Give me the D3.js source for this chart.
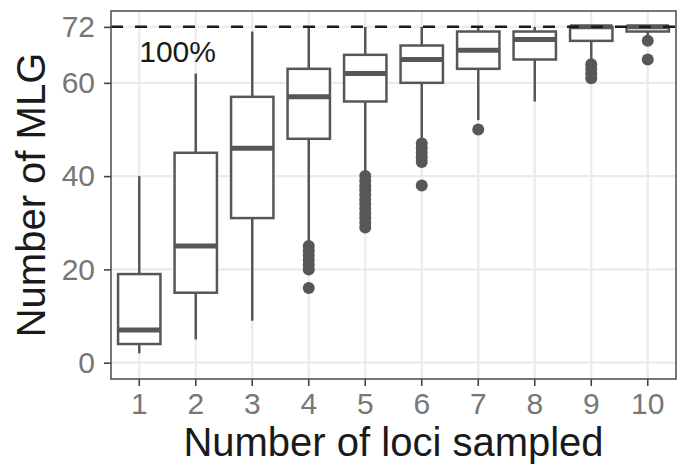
<!DOCTYPE html>
<html>
<head>
<meta charset="utf-8">
<script src="https://cdnjs.cloudflare.com/ajax/libs/d3/7.8.5/d3.min.js"></script>
<style>
  body { margin: 0; background: #fff; }
  text { font-family: "Liberation Sans", Arial, sans-serif; }
</style>
</head>
<body>
<div class="chart"></div>
<script>
// values
var loci = [1, 2, 3, 4, 5, 6, 7, 8, 9, 10];
var lowWhisker = [2, 5, 9, 26, 41, 48, 52, 56, 65, 70];
var lowerQ = [4, 15, 31, 48, 56, 60, 63, 65, 69, 71];
var medians = [7, 25, 46, 57, 62, 65, 67, 69.3, 72, 72];
var upperQ = [19, 45, 57, 63, 66, 68, 71, 71, 72, 72];
var highWhisker = [40, 62, 71, 72, 72, 72, 72, 72, 72, 72];
var outliers = [
  [],
  [],
  [],
  [25, 24, 23, 22, 21, 20, 16],
  [40, 39, 38, 37, 36, 35, 34, 33, 32, 31, 30, 29],
  [47, 46, 45, 44, 43, 38],
  [50],
  [],
  [64, 63, 62, 61],
  [69, 65]
];
var yTicks = [0, 20, 40, 60, 72];
var totalMLG = 72;

var svgWidth = 678, svgHeight = 466;
var margin = { top: 11, right: 2, bottom: 87, left: 111 };
var width = svgWidth - margin.left - margin.right;
var height = svgHeight - margin.top - margin.bottom;

var svg = d3.select(".chart").append("svg")
  .attr("width", svgWidth)
  .attr("height", svgHeight);

var chartGroup = svg.append("g")
  .attr("transform", `translate(${margin.left}, ${margin.top})`);

var xScale = d3.scaleBand()
  .domain(loci)
  .range([0, width])
  .paddingInner(0.25)
  .paddingOuter(0.125);

var yScale = d3.scaleLinear()
  .domain([-3.5, 75.4])
  .range([height, 0]);

var cx = d => xScale(d) + xScale.bandwidth() / 2;

// grid
chartGroup.append("g").selectAll("line")
  .data(yTicks)
  .enter().append("line")
  .attr("x1", 0).attr("x2", width)
  .attr("y1", d => yScale(d)).attr("y2", d => yScale(d))
  .attr("stroke", "#ebebeb").attr("stroke-width", 2.2);

chartGroup.append("g").selectAll("line")
  .data(loci)
  .enter().append("line")
  .attr("x1", cx).attr("x2", cx)
  .attr("y1", 0).attr("y2", height)
  .attr("stroke", "#ebebeb").attr("stroke-width", 2.2);

var boxData = loci.map((d, i) => ({
  k: d, lo: lowWhisker[i], q1: lowerQ[i], med: medians[i],
  q3: upperQ[i], hi: highWhisker[i], out: outliers[i]
}));

var boxColor = "#575757";
var boxes = chartGroup.append("g").selectAll("g")
  .data(boxData)
  .enter().append("g");

// whiskers
boxes.append("line")
  .attr("x1", d => cx(d.k)).attr("x2", d => cx(d.k))
  .attr("y1", d => yScale(d.hi)).attr("y2", d => yScale(d.q3))
  .attr("stroke", boxColor).attr("stroke-width", 2.5);
boxes.append("line")
  .attr("x1", d => cx(d.k)).attr("x2", d => cx(d.k))
  .attr("y1", d => yScale(d.q1)).attr("y2", d => yScale(d.lo))
  .attr("stroke", boxColor).attr("stroke-width", 2.5);

// box body
boxes.append("rect")
  .attr("x", d => xScale(d.k))
  .attr("width", xScale.bandwidth())
  .attr("y", d => yScale(d.q3))
  .attr("height", d => yScale(d.q1) - yScale(d.q3))
  .attr("fill", "#fff")
  .attr("stroke", boxColor).attr("stroke-width", 2.5);

// median
boxes.append("line")
  .attr("x1", d => xScale(d.k)).attr("x2", d => xScale(d.k) + xScale.bandwidth())
  .attr("y1", d => yScale(d.med)).attr("y2", d => yScale(d.med))
  .attr("stroke", boxColor).attr("stroke-width", 5);

// outlying points
boxes.selectAll("circle")
  .data(d => d.out.map(v => ({ k: d.k, v: v })))
  .enter().append("circle")
  .attr("cx", d => cx(d.k))
  .attr("cy", d => yScale(d.v))
  .attr("r", 6)
  .attr("fill", boxColor);

// 100% reference line
chartGroup.append("line")
  .attr("x1", 0).attr("x2", width)
  .attr("y1", yScale(totalMLG)).attr("y2", yScale(totalMLG))
  .attr("stroke", "#1a1a1a").attr("stroke-width", 2.5)
  .attr("stroke-dasharray", "12,12");

chartGroup.append("text")
  .attr("x", cx(1))
  .attr("y", yScale(totalMLG) + 35)
  .attr("font-size", 30)
  .attr("fill", "#1a1a1a")
  .text("100%");

// panel border
chartGroup.append("rect")
  .attr("width", width).attr("height", height)
  .attr("fill", "none")
  .attr("stroke", "#555").attr("stroke-width", 1.6);

// axes
var bottomAxis = d3.axisBottom(xScale).tickSize(7).tickPadding(7);
var leftAxis = d3.axisLeft(yScale).tickValues(yTicks).tickSize(7).tickPadding(9);

var xAxis = chartGroup.append("g")
  .attr("transform", `translate(0, ${height})`)
  .call(bottomAxis);
var yAxis = chartGroup.append("g")
  .call(leftAxis);

[xAxis, yAxis].forEach(function(ax) {
  ax.select(".domain").remove();
  ax.selectAll(".tick line").attr("stroke", "#444").attr("stroke-width", 1.6);
  ax.selectAll(".tick text")
    .attr("font-size", 30)
    .attr("font-family", "Liberation Sans, Arial, sans-serif")
    .attr("fill", "#777");
});

// axis titles
chartGroup.append("text")
  .attr("x", width / 2)
  .attr("y", height + 77)
  .attr("text-anchor", "middle")
  .attr("font-size", 40)
  .attr("fill", "#1a1a1a")
  .text("Number of loci sampled");

chartGroup.append("text")
  .attr("transform", "rotate(-90)")
  .attr("x", -height / 2)
  .attr("y", 45 - margin.left)
  .attr("text-anchor", "middle")
  .attr("font-size", 40)
  .attr("fill", "#1a1a1a")
  .text("Number of MLG");
</script>
</body>
</html>
